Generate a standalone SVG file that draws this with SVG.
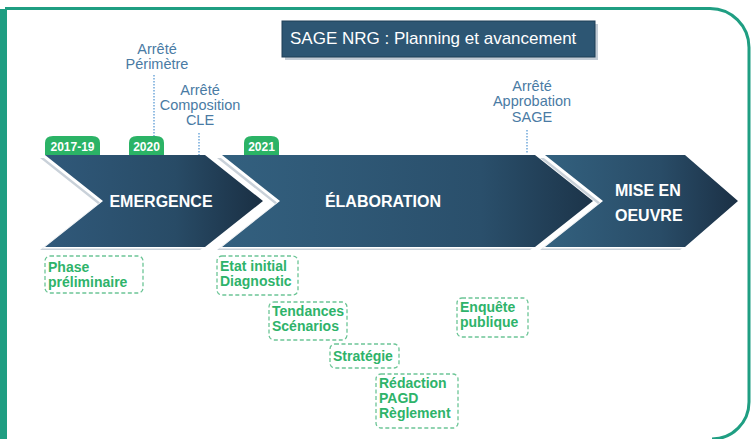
<svg xmlns="http://www.w3.org/2000/svg" width="755" height="439" viewBox="0 0 755 439">
<defs>
<linearGradient id="gEm" x1="0" y1="0" x2="1" y2="0">
<stop offset="0" stop-color="#30597a"/><stop offset="0.6" stop-color="#284b66"/><stop offset="1" stop-color="#1a2f43"/>
</linearGradient>
<linearGradient id="gEl" x1="0" y1="0" x2="1" y2="0">
<stop offset="0" stop-color="#33607f"/><stop offset="0.7" stop-color="#2a4f6b"/><stop offset="1" stop-color="#1c3449"/>
</linearGradient>
<linearGradient id="gMi" x1="0" y1="0" x2="1" y2="0">
<stop offset="0" stop-color="#33617f"/><stop offset="0.6" stop-color="#294c67"/><stop offset="1" stop-color="#1b3045"/>
</linearGradient>
<style>
.frame{fill:none;stroke:#1f9e82;stroke-width:3}
.bevel{fill:#c9d1d9}
.chev-t{font-family:"Liberation Sans",Arial,sans-serif;font-weight:bold;font-size:16px;fill:#ffffff}
.tab{fill:#2bb366}
.tab-t{font-family:"Liberation Sans",Arial,sans-serif;font-weight:bold;font-size:12px;fill:#ffffff;text-anchor:middle}
.ms{font-family:"Liberation Sans",Arial,sans-serif;font-size:14.5px;fill:#4a7ba4;text-anchor:middle}
.dot{stroke:#5b9bd5;stroke-width:1.3;stroke-dasharray:1.5 1.5;fill:none}
.task{fill:#ffffff;stroke:#6cc596;stroke-width:1.3;stroke-dasharray:4 2.5}
.task-t{font-family:"Liberation Sans",Arial,sans-serif;font-weight:bold;font-size:14px;fill:#2eb36a}
.title-t{font-family:"Liberation Sans",Arial,sans-serif;font-size:17px;fill:#ffffff}
</style>
</defs>
<rect width="755" height="439" fill="#ffffff"/>
<rect x="0" y="9" width="7" height="430" fill="#1f9e82"/>
<path class="frame" d="M5,8.5 H710 A39 39 0 0 1 749 47.5 V402 A37 37 0 0 1 712 439"/>

<g id="title">
<rect x="285" y="24" width="313" height="36" fill="#c3ccd5"/>
<rect x="282" y="21" width="313" height="36" fill="#2d5673" stroke="#1f3f57" stroke-width="1"/>
<text class="title-t" x="290" y="44">SAGE NRG : Planning et avancement</text>
</g>

<g id="connectors">
<line class="dot" x1="154" y1="75" x2="154" y2="157"/>
<line class="dot" x1="199" y1="133" x2="199" y2="157"/>
<line class="dot" x1="527" y1="130" x2="527" y2="154"/>
</g>

<g id="emergence">
<polygon class="bevel" points="40,158 200,158 258,204 200,250 40,250 98,204"/>
<polygon fill="#ffffff" points="42,156.5 202,156.5 260,202.5 202,248.5 42,248.5 100,202.5"/>
<polygon fill="url(#gEm)" points="45,155 205,155 263,201 205,247 45,247 103,201"/>
<text class="chev-t" x="161" y="207" text-anchor="middle">EMERGENCE</text>
</g>

<g id="elaboration">
<polygon class="bevel" points="217,158 530,158 588,204 530,250 217,250 275,204"/>
<polygon fill="#ffffff" points="219,156.5 532,156.5 590,202.5 532,248.5 219,248.5 277,202.5"/>
<polygon fill="url(#gEl)" points="222,155 535,155 593,201 535,247 222,247 280,201"/>
<text class="chev-t" x="383" y="207" text-anchor="middle">ÉLABORATION</text>
</g>

<g id="mise-en-oeuvre">
<polygon class="bevel" points="540,158 680,158 733,204 680,250 540,250 598,204"/>
<polygon fill="#ffffff" points="542,156.5 682,156.5 735,202.5 682,248.5 542,248.5 600,202.5"/>
<polygon fill="url(#gMi)" points="545,155 685,155 738,201 685,247 545,247 603,201"/>
<text class="chev-t" x="615" y="196" font-size="15">MISE EN</text>
<text class="chev-t" x="615" y="221" font-size="15">OEUVRE</text>
</g>

<g id="tab-2017-19">
<path class="tab" d="M45,155 V143 Q45,136 53,136 H92 Q100,136 100,143 V155 Z"/>
<text class="tab-t" x="72.5" y="151">2017-19</text>
</g>
<g id="tab-2020">
<path class="tab" d="M129,155 V143 Q129,136 137,136 H156 Q164,136 164,143 V155 Z"/>
<text class="tab-t" x="146.5" y="151">2020</text>
</g>
<g id="tab-2021">
<path class="tab" d="M244,155 V143 Q244,136 252,136 H271 Q279,136 279,143 V155 Z"/>
<text class="tab-t" x="261.5" y="151">2021</text>
</g>

<g id="arrete-perimetre">
<text class="ms" x="157" y="54">Arrêté</text>
<text class="ms" x="157" y="69">Périmètre</text>
</g>
<g id="arrete-composition">
<text class="ms" x="200" y="95">Arrêté</text>
<text class="ms" x="200" y="110">Composition</text>
<text class="ms" x="200" y="125">CLE</text>
</g>
<g id="arrete-approbation">
<text class="ms" x="532" y="91">Arrêté</text>
<text class="ms" x="532" y="106">Approbation</text>
<text class="ms" x="532" y="122">SAGE</text>
</g>

<g id="phase-preliminaire">
<rect class="task" x="45" y="256" width="98" height="37" rx="5"/>
<text class="task-t" x="48" y="272">Phase</text>
<text class="task-t" x="48" y="287">préliminaire</text>
</g>
<g id="etat-initial">
<rect class="task" x="217" y="256" width="81" height="39" rx="5"/>
<text class="task-t" x="220" y="271">Etat initial</text>
<text class="task-t" x="220" y="286">Diagnostic</text>
</g>
<g id="tendances">
<rect class="task" x="269" y="302" width="78" height="38" rx="5"/>
<text class="task-t" x="272" y="316">Tendances</text>
<text class="task-t" x="272" y="331">Scénarios</text>
</g>
<g id="strategie">
<rect class="task" x="330" y="344" width="69" height="24" rx="5"/>
<text class="task-t" x="333" y="361">Stratégie</text>
</g>
<g id="redaction">
<rect class="task" x="376" y="374" width="82" height="54" rx="5"/>
<text class="task-t" x="379" y="388">Rédaction</text>
<text class="task-t" x="379" y="403">PAGD</text>
<text class="task-t" x="379" y="418">Règlement</text>
</g>
<g id="enquete">
<rect class="task" x="457" y="298" width="71" height="39" rx="5"/>
<text class="task-t" x="460" y="312">Enquête</text>
<text class="task-t" x="460" y="327">publique</text>
</g>
</svg>
